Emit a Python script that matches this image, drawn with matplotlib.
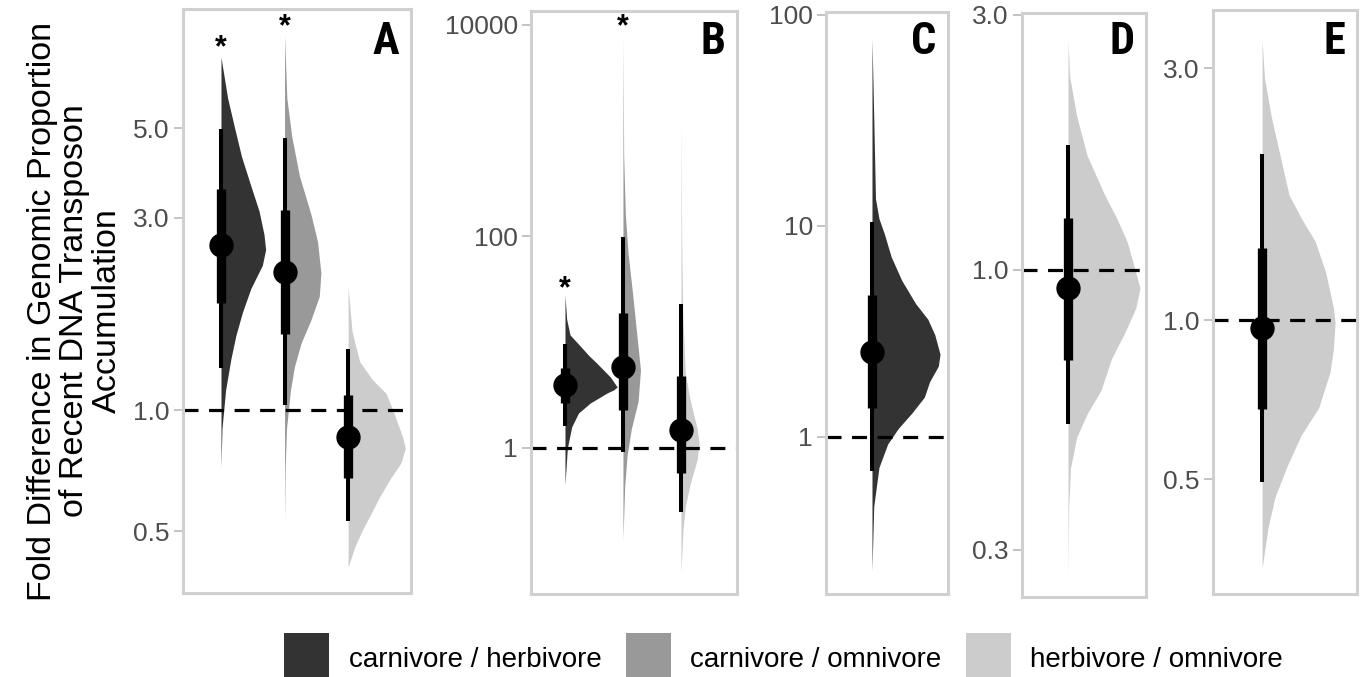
import numpy as np
import matplotlib
matplotlib.use("Agg")
import matplotlib.pyplot as plt
from matplotlib.patches import Rectangle
from matplotlib import font_manager as fm

plt.rcParams['font.family'] = ['Liberation Sans', 'DejaVu Sans']
plt.rcParams['lines.scale_dashes'] = False

# ---------------- data ----------------
comparisons = ['carnivore / herbivore', 'carnivore / omnivore', 'herbivore / omnivore']
comp_colors = ['#333333', '#999999', '#cccccc']
panel_letters = ['A', 'B', 'C', 'D', 'E']

# Panel A (three comparisons)
a_comp = [0, 1, 2]
a_median = [2.57, 2.20, 0.855]
a_q66_lo = [1.84, 1.54, 0.68]
a_q66_hi = [3.53, 3.14, 1.09]
a_q95_lo = [1.27, 1.03, 0.53]
a_q95_hi = [4.98, 4.74, 1.42]
a_signif = [True, True, False]
a_star_y = [7.9, 8.9, None]
a_dens_log10 = [
    [0.875, 0.774, 0.697, 0.629, 0.562, 0.494, 0.436, 0.398, 0.359, 0.301, 0.243, 0.185, 0.127, 0.05, -0.046, -0.143],
    [0.929, 0.774, 0.678, 0.581, 0.485, 0.417, 0.340, 0.282, 0.224, 0.166, 0.108, 0.05, -0.046, -0.143, -0.278],
    [0.306, 0.195, 0.12, 0.074, 0.041, 0.0, -0.067, -0.095, -0.131, -0.174, -0.216, -0.256, -0.298, -0.34, -0.39],
]
a_dens = [
    [0, 20, 42, 62, 88, 115, 130, 135, 125, 90, 65, 45, 30, 14, 3, 0],
    [0, 7, 22, 45, 80, 100, 110, 105, 80, 50, 30, 18, 6, 2, 0],
    [0, 12, 35, 75, 115, 135, 165, 173, 160, 125, 95, 70, 43, 20, 0],
]
a_ticks = [0.5, 1.0, 3.0, 5.0]
a_ticklabels = ['0.5', '1.0', '3.0', '5.0']

# Panel B (three comparisons)
b_comp = [0, 1, 2]
b_median = [3.95, 5.79, 1.47]
b_q66_lo = [2.65, 2.30, 0.575]
b_q66_hi = [5.70, 18.7, 4.81]
b_q95_lo = [1.60, 0.918, 0.247]
b_q95_hi = [9.64, 99.5, 23.1]
b_signif = [True, True, False]
b_star_y = [32, 9500, None]
b_dens_log10 = [
    [1.445, 1.217, 1.069, 0.965, 0.87, 0.80, 0.67, 0.60, 0.577, 0.55, 0.52, 0.425, 0.33, 0.2, 0.0, -0.35],
    [3.89, 2.765, 2.212, 1.843, 1.475, 1.106, 0.737, 0.442, 0.184, -0.074, -0.369, -0.866],
    [3.097, 2.028, 1.29, 0.7, 0.442, 0.184, 0.037, -0.111, -0.332, -0.553, -0.774, -1.18],
]
b_dens = [
    [0, 5, 15, 45, 72, 95, 135, 150, 155, 145, 125, 75, 40, 20, 7, 0],
    [0, 2, 7, 15, 28, 40, 52, 45, 25, 12, 5, 0],
    [0, 2, 5, 13, 28, 48, 54, 48, 28, 13, 6, 0],
]
b_ticks = [1, 100, 10000]
b_ticklabels = ['1', '100', '10000']

# Panel C (carnivore / herbivore)
c_comp = [0]
c_median = [2.52]
c_q66_lo = [1.37]
c_q66_hi = [4.73]
c_q95_lo = [0.69]
c_q95_hi = [10.4]
c_signif = [False]
c_star_y = [None]
c_dens_log10 = [[1.889, 1.52, 1.13, 1.035, 0.965, 0.854, 0.743, 0.632, 0.558, 0.484, 0.392,
                 0.336, 0.262, 0.189, 0.115, 0.04, -0.033, -0.144, -0.329, -0.634]]
c_dens = [[0, 5, 10, 20, 35, 55, 85, 125, 160, 180, 195, 190, 165, 150, 115, 75, 45, 20, 5, 0]]
c_ticks = [1, 10, 100]
c_ticklabels = ['1', '10', '100']

# Panel D (herbivore / omnivore)
d_comp = [2]
d_median = [0.924]
d_q66_lo = [0.68]
d_q66_hi = [1.25]
d_q95_lo = [0.515]
d_q95_hi = [1.71]
d_signif = [False]
d_star_y = [None]
d_dens_log10 = [[0.428, 0.361, 0.288, 0.214, 0.141, 0.097, 0.053, -0.005, -0.034, -0.071, -0.115,
                 -0.166, -0.225, -0.269, -0.313, -0.371, -0.444, -0.572]]
d_dens = [[0, 5, 25, 55, 105, 140, 170, 195, 207, 195, 165, 125, 95, 55, 25, 7, 2, 0]]
d_ticks = [0.3, 1.0, 3.0]
d_ticklabels = ['0.3', '1.0', '3.0']

# Panel E (herbivore / omnivore)
e_comp = [2]
e_median = [0.967]
e_q66_lo = [0.678]
e_q66_hi = [1.37]
e_q95_lo = [0.494]
e_q95_hi = [2.06]
e_signif = [False]
e_star_y = [None]
e_dens_log10 = [[0.53, 0.457, 0.383, 0.31, 0.237, 0.193, 0.149, 0.09, 0.024, -0.005, -0.056, -0.1,
                 -0.166, -0.218, -0.276, -0.335, -0.393, -0.47]]
e_dens = [[0, 7, 27, 52, 77, 112, 152, 182, 204, 209, 204, 194, 162, 112, 72, 37, 17, 0]]
e_ticks = [0.5, 1.0, 3.0]
e_ticklabels = ['0.5', '1.0', '3.0']

y_label = "Fold Difference in Genomic Proportion\nof Recent DNA Transposon\nAccumulation"


# ---------------- fonts ----------------
def condensed_bold_font():
    entries = fm.fontManager.ttflist
    for name in ['Liberation Sans Narrow', 'Roboto Condensed', 'Open Sans Condensed',
                 'Noto Sans Condensed', 'DejaVu Sans Condensed']:
        for f in entries:
            if f.name == name and str(f.weight) in ('700', 'bold'):
                return fm.FontProperties(fname=f.fname)
    cond = []
    for f in entries:
        st = str(f.stretch).lower()
        wt = f.weight if isinstance(f.weight, int) else (700 if 'bold' in str(f.weight) else 400)
        if ('condensed' in st or 'narrow' in st) and wt >= 600 \
                and 'CJK' not in f.name and 'Italic' not in f.fname and 'Oblique' not in f.fname:
            cond.append(f)
    pref = ['Noto Sans', 'Roboto', 'Open Sans', 'DejaVu Sans', 'Liberation Sans']
    cond.sort(key=lambda f: (pref.index(f.name) if f.name in pref else 99,
                             abs((f.weight if isinstance(f.weight, int) else 700) - 700)))
    if cond:
        return fm.FontProperties(fname=cond[0].fname)
    return fm.FontProperties(family='DejaVu Sans', weight='bold')


letter_font = condensed_bold_font()
letter_font.set_size(32)

# ---------------- layout (pixels in a 1361x677 canvas) ----------------
W, H = 1361, 677
frames = [(183, 411, 9, 593), (531, 737, 11, 594), (826, 948, 12, 594),
          (1022, 1146, 13, 597), (1213, 1357, 10, 594)]
xlims = [(0.402, 3.99), (0.414, 3.966), (0.392, 2.005), (0.425, 1.975), (0.395, 2.17)]
ylims = [(10 ** -0.454, 10 ** 0.995), (10 ** -1.381, 10 ** 4.132), (10 ** -0.744, 10 ** 2.014),
         (10 ** -0.6117, 10 ** 0.4807), (10 ** -0.5187, 10 ** 0.587)]

panels = [
    dict(comp=a_comp, med=a_median, lo66=a_q66_lo, hi66=a_q66_hi, lo95=a_q95_lo, hi95=a_q95_hi,
         sig=a_signif, star=a_star_y, dl=a_dens_log10, dw=a_dens, ticks=a_ticks, tl=a_ticklabels),
    dict(comp=b_comp, med=b_median, lo66=b_q66_lo, hi66=b_q66_hi, lo95=b_q95_lo, hi95=b_q95_hi,
         sig=b_signif, star=b_star_y, dl=b_dens_log10, dw=b_dens, ticks=b_ticks, tl=b_ticklabels),
    dict(comp=c_comp, med=c_median, lo66=c_q66_lo, hi66=c_q66_hi, lo95=c_q95_lo, hi95=c_q95_hi,
         sig=c_signif, star=c_star_y, dl=c_dens_log10, dw=c_dens, ticks=c_ticks, tl=c_ticklabels),
    dict(comp=d_comp, med=d_median, lo66=d_q66_lo, hi66=d_q66_hi, lo95=d_q95_lo, hi95=d_q95_hi,
         sig=d_signif, star=d_star_y, dl=d_dens_log10, dw=d_dens, ticks=d_ticks, tl=d_ticklabels),
    dict(comp=e_comp, med=e_median, lo66=e_q66_lo, hi66=e_q66_hi, lo95=e_q95_lo, hi95=e_q95_hi,
         sig=e_signif, star=e_star_y, dl=e_dens_log10, dw=e_dens, ticks=e_ticks, tl=e_ticklabels),
]

fig = plt.figure(figsize=(W / 100, H / 100), dpi=100)
fig.patch.set_facecolor('white')

SLAB = 0.9
for i, p in enumerate(panels):
    l, r, t, b = frames[i]
    ax = fig.add_axes([l / W, 1 - b / H, (r - l) / W, (b - t) / H])
    ax.set_yscale('log')
    ax.set_xlim(*xlims[i])
    ax.set_ylim(*ylims[i])
    dmax = max(max(w) for w in p['dw'])
    for k, ci in enumerate(p['comp']):
        pos = k + 1
        yv = 10 ** np.array(p['dl'][k])
        wv = SLAB * np.array(p['dw'][k], dtype=float) / dmax
        ax.fill_betweenx(yv, pos, pos + wv, color=comp_colors[ci], lw=0, zorder=1)
    ax.axhline(1.0, color='black', lw=2.3, dashes=(10.8, 7.6), zorder=2)
    for k, ci in enumerate(p['comp']):
        pos = k + 1
        ax.plot([pos, pos], [p['lo95'][k], p['hi95'][k]], color='black', lw=2.9,
                solid_capstyle='butt', zorder=3)
        ax.plot([pos, pos], [p['lo66'][k], p['hi66'][k]], color='black', lw=6.7,
                solid_capstyle='butt', zorder=4)
        ax.plot([pos], [p['med'][k]], 'o', color='black', ms=16.5, zorder=5)
        if p['sig'][k]:
            ax.text(pos, p['star'][k], '*', ha='center', va='center', fontsize=22,
                    fontweight='bold', color='black', zorder=6)
    ax.set_xticks([])
    ax.yaxis.set_major_locator(matplotlib.ticker.FixedLocator(p['ticks']))
    ax.yaxis.set_major_formatter(matplotlib.ticker.FixedFormatter(p['tl']))
    ax.yaxis.set_minor_locator(matplotlib.ticker.NullLocator())
    ax.tick_params(axis='y', length=6.5, width=1.1, color='#b3b3b3', pad=3,
                   labelsize=19, labelcolor='#4d4d4d')
    for s in ax.spines.values():
        s.set_color('#d0d0d0')
        s.set_linewidth(2.2)
    ax.text(1 - 12 / (r - l), 1 - (54 - t) / (b - t), panel_letters[i],
            transform=ax.transAxes, ha='right', va='baseline', fontproperties=letter_font,
            color='black')

fig.text(75 / W, 1 - 311 / H, y_label, rotation=90, ha='center', va='center',
         multialignment='center', fontsize=24.6, color='black', linespacing=1.08)

# legend
leg_patch_x = [284, 626, 966]
leg_text_x = [349, 690, 1030]
for j, lab in enumerate(comparisons):
    fig.add_artist(Rectangle((leg_patch_x[j] / W, 0), 45 / W, 44 / H,
                             transform=fig.transFigure, facecolor=comp_colors[j],
                             edgecolor='none'))
    fig.text(leg_text_x[j] / W, 1 - 667 / H, lab, ha='left', va='baseline',
             fontsize=20, color='black')

fig.savefig('out.png', dpi=100, facecolor='white')
